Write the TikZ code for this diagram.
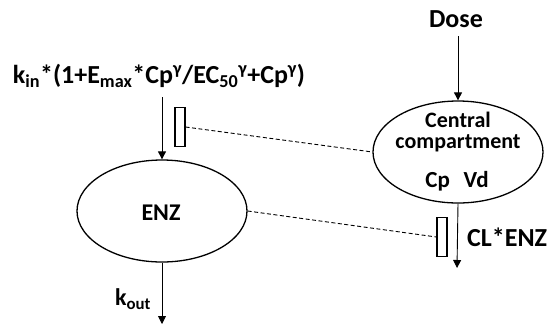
\documentclass[tikz,border=0pt]{standalone}
\usepackage{fontspec}
\setmainfont{Carlito}
\usetikzlibrary{arrows.meta,shapes.geometric}
\newcommand{\fsz}[1]{\bfseries\fontsize{#1}{#1}\selectfont}
\begin{document}
\begin{tikzpicture}[x=1pt,y=-1pt,
  lbl/.style={font=\fsz{20}, inner sep=0pt},
  comp/.style={draw, line width=1.3pt, ellipse, minimum width=170pt, minimum height=102pt, inner sep=0pt},
  flow/.style={line width=0.9pt, -{Triangle[length=8pt,width=8pt]}},
  gate/.style={draw, line width=1.1pt, minimum width=10pt, minimum height=39pt, inner sep=0pt},
  link/.style={line width=0.9pt, dash pattern=on 4pt off 2.5pt}]
\useasboundingbox (0,0) rectangle (554,325);
\node[lbl, font=\fsz{26}] (dose) at (456,19) {Dose};
\node[comp] (central) at (458,152) {};
\node[lbl, font=\fsz{22}] (ctxt) at (458,134) {\begin{tabular}{@{}c@{}}Central\\[-1pt]compartment\end{tabular}};
\node[lbl, font=\fsz{23}] (cpvd) at (457,181) {Cp\hspace{0.6em}Vd};
\node[comp] (enz) at (162,211) {};
\node[lbl, font=\fsz{24}] (enztxt) at (161,213) {ENZ};
\node[lbl, font=\fsz{26}] (formula) at (159,76) {k\textsubscript{in}*(1+E\textsubscript{max}*Cp\textsuperscript{γ}/EC\textsubscript{50}\textsuperscript{γ}+Cp\textsuperscript{γ})};
\coordinate (fin) at (162,97);
\node[gate] (g1) at (180,127) {};
\node[gate] (g2) at (442,237) {};
\coordinate (clout) at (457,268);
\coordinate (kout) at (162,324);
\coordinate (dosein) at (458,36);
\node[lbl, font=\fsz{26}, anchor=west] (cl) at (467,237) {CL*ENZ};
\node[lbl, font=\fsz{24}] (kl) at (133,299) {k\textsubscript{out}};
\draw[flow] (dosein) -- (central.north);
\draw[flow] (fin) -- (enz.north);
\draw[flow] (central.south) -- (clout);
\draw[flow] (enz.south) -- (kout);
\draw[link] (g1.east) -- (central.west);
\draw[link] (enz.east) -- (g2.west);
\end{tikzpicture}
\end{document}
